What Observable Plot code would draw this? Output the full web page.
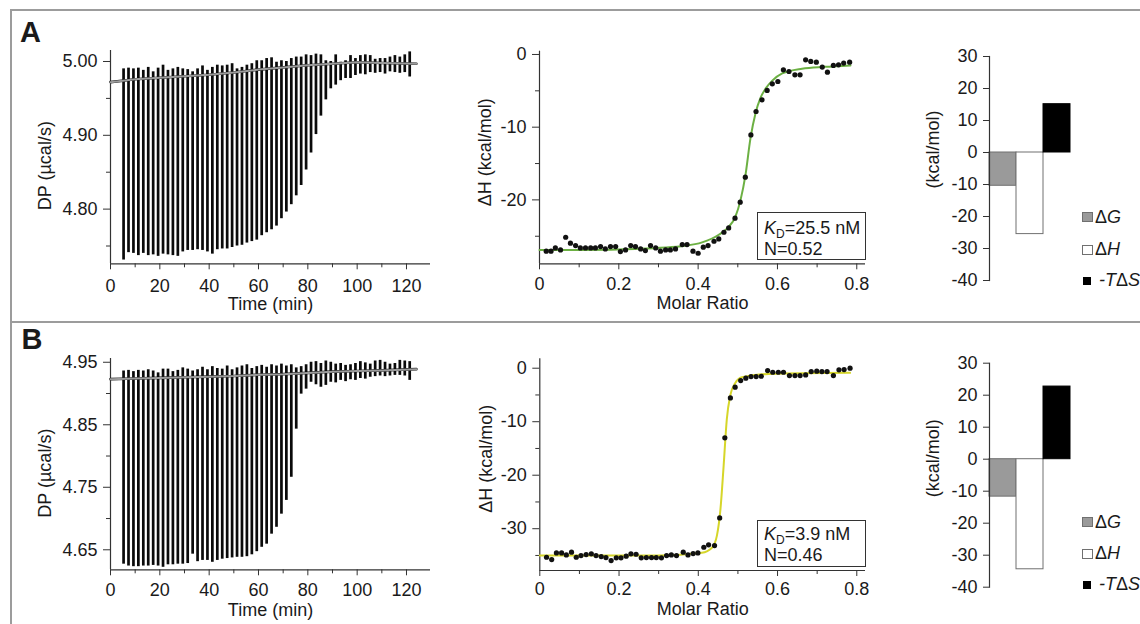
<!DOCTYPE html>
<html><head><meta charset="utf-8">
<script src="https://cdn.jsdelivr.net/npm/d3@7"></script>
<script src="https://cdn.jsdelivr.net/npm/@observablehq/plot@0.6"></script>
<style>
body{margin:0;background:#fff;}
#fig{position:relative;width:1140px;height:624px;overflow:hidden;background:#fff;font-family:"Liberation Sans",Arial,Helvetica,sans-serif;color:#1a1a1a;}
.t{position:absolute;white-space:nowrap;}
.b{position:absolute;box-sizing:border-box;}
</style></head>
<body><div id="fig"></div>
<script>
// ---------------- DATA ----------------
// injection times (min), shared by both runs
const injTime = [5.3,7.3,9.3,11.3,13.3,15.3,17.3,19.3,21.3,23.3,25.3,27.3,29.3,31.3,33.3,35.3,37.3,39.3,41.3,43.3,45.3,47.3,49.3,51.3,53.3,55.3,57.3,59.3,61.3,63.3,65.3,67.3,69.3,71.3,73.3,75.3,77.3,79.3,81.3,83.3,85.3,87.3,89.3,91.3,93.3,95.3,97.3,99.3,101.3,103.3,105.3,107.3,109.3,111.3,113.3,115.3,117.3,119.3,121.3];
// panel A raw trace: spike minima and overshoot maxima (µcal/s)
const peakA = [4.731,4.741,4.740,4.737,4.740,4.737,4.738,4.736,4.739,4.738,4.737,4.736,4.742,4.744,4.744,4.745,4.744,4.742,4.739,4.745,4.746,4.746,4.748,4.750,4.751,4.754,4.756,4.758,4.764,4.768,4.772,4.777,4.787,4.796,4.806,4.818,4.832,4.853,4.876,4.901,4.926,4.948,4.963,4.968,4.974,4.977,4.977,4.981,4.983,4.982,4.985,4.984,4.985,4.983,4.986,4.985,4.984,4.985,4.979];
const upA = [4.990,4.991,4.990,4.991,4.988,4.992,4.986,4.991,4.995,4.988,4.990,4.992,4.990,4.989,4.986,4.990,4.994,4.988,4.992,4.995,4.994,4.995,4.997,4.990,4.992,4.995,4.997,5.001,5.001,5.004,5.005,4.999,5.001,5.000,5.004,5.006,5.006,5.009,5.008,5.010,5.009,5.001,5.000,5.009,4.999,5.001,5.008,5.004,5.008,5.009,5.008,5.003,5.004,5.004,5.006,5.008,5.006,5.009,5.013];
// panel B raw trace
const peakB = [4.627,4.624,4.623,4.623,4.624,4.624,4.625,4.624,4.622,4.626,4.626,4.627,4.627,4.628,4.643,4.631,4.633,4.633,4.630,4.633,4.635,4.636,4.637,4.638,4.638,4.639,4.642,4.647,4.654,4.659,4.675,4.686,4.707,4.729,4.766,4.843,4.899,4.907,4.918,4.914,4.910,4.913,4.918,4.917,4.921,4.919,4.922,4.921,4.924,4.923,4.926,4.927,4.928,4.927,4.928,4.929,4.929,4.928,4.921];
const upB = [4.936,4.937,4.935,4.937,4.936,4.938,4.936,4.933,4.939,4.939,4.935,4.937,4.941,4.939,4.936,4.938,4.942,4.938,4.943,4.940,4.939,4.944,4.938,4.941,4.944,4.946,4.940,4.943,4.945,4.942,4.946,4.944,4.947,4.944,4.946,4.941,4.943,4.946,4.950,4.951,4.948,4.952,4.950,4.947,4.948,4.945,4.946,4.948,4.951,4.949,4.947,4.952,4.953,4.950,4.947,4.948,4.953,4.952,4.951];
// baselines
const baseTime = [0,10,20,30,40,50,60,70,80,90,100,110,124];
const baseA = [4.972,4.976,4.978,4.980,4.982,4.985,4.989,4.992,4.995,4.997,4.999,4.998,4.997];
const baseB = [4.923,4.924,4.925,4.926,4.927,4.928,4.930,4.931,4.933,4.935,4.936,4.937,4.939];
// isotherms
const ratioA = [0.017,0.029,0.040,0.053,0.066,0.078,0.091,0.103,0.116,0.129,0.141,0.154,0.166,0.179,0.192,0.204,0.217,0.230,0.242,0.255,0.267,0.280,0.293,0.305,0.318,0.330,0.343,0.360,0.372,0.387,0.400,0.413,0.425,0.440,0.452,0.465,0.477,0.493,0.506,0.519,0.533,0.546,0.561,0.574,0.587,0.601,0.615,0.629,0.644,0.657,0.671,0.684,0.698,0.713,0.726,0.741,0.754,0.767,0.782];
const dhA = [-27.06,-27.06,-26.61,-26.88,-25.14,-25.96,-26.28,-26.61,-26.61,-26.61,-26.61,-26.42,-26.74,-26.42,-26.42,-27.11,-26.88,-26.28,-26.42,-26.74,-26.97,-26.28,-26.61,-27.06,-26.88,-26.88,-26.74,-26.15,-26.15,-27.06,-27.34,-26.51,-26.28,-25.69,-25.37,-24.45,-23.85,-22.52,-20.32,-16.88,-11.06,-7.84,-6.24,-4.95,-4.04,-3.72,-2.11,-2.34,-2.80,-2.80,-0.73,-0.96,-1.06,-1.74,-2.43,-1.51,-1.42,-1.19,-1.06];
const fitRatioA = [0.000,0.100,0.242,0.368,0.410,0.452,0.477,0.494,0.507,0.519,0.532,0.545,0.557,0.570,0.587,0.612,0.662,0.720,0.784];
const fitDhA = [-26.90,-26.88,-26.74,-26.30,-25.85,-24.80,-23.70,-22.30,-20.00,-16.70,-11.50,-8.00,-6.00,-4.70,-3.60,-2.60,-1.95,-1.70,-1.50];
const ratioB = [0.017,0.030,0.042,0.055,0.067,0.080,0.092,0.104,0.117,0.130,0.142,0.155,0.167,0.180,0.193,0.205,0.218,0.230,0.243,0.256,0.269,0.282,0.294,0.307,0.320,0.332,0.345,0.362,0.374,0.387,0.399,0.414,0.426,0.441,0.454,0.467,0.481,0.493,0.507,0.520,0.533,0.546,0.559,0.575,0.588,0.602,0.615,0.630,0.644,0.657,0.671,0.685,0.699,0.712,0.725,0.741,0.755,0.768,0.783];
const dhB = [-35.33,-35.76,-34.52,-34.52,-34.89,-34.39,-35.33,-35.02,-34.83,-34.70,-35.02,-35.20,-35.39,-35.95,-35.45,-35.45,-35.14,-34.70,-34.77,-35.45,-35.39,-35.39,-35.39,-35.45,-35.02,-34.89,-35.02,-34.39,-34.89,-34.64,-34.52,-33.46,-33.02,-33.15,-27.98,-13.02,-5.55,-3.55,-2.31,-1.87,-1.56,-1.56,-1.50,-0.44,-0.75,-0.75,-0.75,-1.37,-1.37,-1.37,-1.25,-0.62,-0.56,-0.62,-0.62,-1.37,-0.31,-0.25,0.00];
const fitRatioB = [0.000,0.300,0.409,0.435,0.447,0.456,0.464,0.472,0.481,0.493,0.510,0.578,0.783];
const fitDhB = [-35.00,-35.00,-34.50,-33.50,-31.30,-26.30,-18.20,-9.50,-5.00,-2.80,-1.70,-1.06,-0.87];
// fit results
const kdA = "25.5 nM", nA = "0.52";
const kdB = "3.9 nM", nB = "0.46";
// thermodynamic signature (kcal/mol)
const thermoCats = ["ΔG", "ΔH", "-TΔS"];
const thermoA = [-10.4, -25.5, 15.1];
const thermoB = [-11.7, -34.4, 22.7];
// ticks
const timeMajor = [0,20,40,60,80,100,120];
const timeMinor = [10,30,50,70,90,110];
const dpAMajor = [4.80,4.90,5.00], dpAMinor = [4.75,4.85,4.95];
const dpBMajor = [4.65,4.75,4.85,4.95], dpBMinor = [4.70,4.80,4.90];
const ratioMajor = [0,0.2,0.4,0.6,0.8], ratioMinor = [0.1,0.3,0.5,0.7];
const dhAMajor = [0,-10,-20], dhAMinor = [-5,-15,-25];
const dhBMajor = [0,-10,-20,-30], dhBMinor = [-5,-15,-25,-35];
const thermoTicks = [30,20,10,0,-10,-20,-30,-40];

// ---------------- STYLE ----------------
const AX = "#333", TXT = "#1a1a1a";
const FONT = "'Liberation Sans', Arial, Helvetica, sans-serif";
const barFill = ["#9a9a9a", "#ffffff", "#000000"];
const barStroke = ["#707070", "#707070", "#000000"];
const fig = document.getElementById("fig");

function plotAt(L, T, W, H, area, opts) {
  const [x0, x1, y0, y1] = area;
  const svg = Plot.plot({
    width: W, height: H,
    marginLeft: x0 - L, marginRight: L + W - x1, marginTop: y0 - T, marginBottom: T + H - y1,
    style: {fontFamily: FONT, fontSize: "18px", color: TXT, background: "transparent", overflow: "visible"},
    ...opts
  });
  svg.style.position = "absolute"; svg.style.left = L + "px"; svg.style.top = T + "px";
  fig.appendChild(svg);
}
function axesMarks(xd, yd, xMaj, xMin, yMaj, yMin, xFmt, yFmt, xPad, yPad) {
  return [
    Plot.axisX({ticks: xMaj, tickSize: 6, tickPadding: xPad, tickFormat: xFmt, label: null, fontSize: 18, stroke: AX}),
    Plot.axisX({ticks: xMin, tickSize: 4, tickFormat: () => "", label: null, stroke: AX}),
    Plot.axisY({ticks: yMaj, tickSize: 7, tickPadding: yPad, tickFormat: yFmt, label: null, fontSize: 18, stroke: AX}),
    Plot.axisY({ticks: yMin, tickSize: 4, tickFormat: () => "", label: null, stroke: AX}),
    Plot.ruleX([xd[0]], {stroke: AX, strokeWidth: 1.2}),
    Plot.ruleY([yd[0]], {stroke: AX, strokeWidth: 1.2})
  ];
}
const lab = (s, o) => Plot.text([s], {text: d => d, textAnchor: "middle", lineAnchor: "middle", fontSize: 18, fill: TXT, ...o});
const idx = d3.range(injTime.length);
const bidx = d3.range(baseTime.length);

function trace(L, T, W, H, area, yd, peak, up, base, yMaj, yMin, labDy, timeDy, xPad) {
  const xd = [0, 129.73];
  plotAt(L, T, W, H, area, {
    x: {domain: xd}, y: {domain: yd},
    marks: [
      ...axesMarks(xd, yd, timeMajor, timeMinor, yMaj, yMin, d => String(d), d => d.toFixed(2), xPad, 6),
      Plot.line(bidx, {x: i => baseTime[i], y: i => base[i], stroke: "#111", strokeWidth: 2.6}),
      Plot.ruleX(idx, {x: i => injTime[i], y1: i => peak[i], y2: i => up[i], stroke: "#0a0a0a", strokeWidth: 2.7}),
      Plot.line(bidx, {x: i => baseTime[i], y: i => base[i], stroke: "#9b9b9b", strokeWidth: 2}),
      lab("Time (min)", {frameAnchor: "bottom", dy: timeDy}),
      lab("DP (µcal/s)", {frameAnchor: "left", rotate: -90, dx: -65, dy: labDy})
    ]
  });
}
function iso(L, T, W, H, area, yd, rx, ry, fx, fy, color, yMaj, yMin, labDy, molDy, xPad) {
  const xd = [0, 0.822];
  const pts = d3.range(rx.length), fit = d3.range(fx.length);
  plotAt(L, T, W, H, area, {
    x: {domain: xd}, y: {domain: yd},
    marks: [
      ...axesMarks(xd, yd, ratioMajor, ratioMinor, yMaj, yMin, d => String(d), d => String(d), xPad, 6),
      Plot.line(fit, {x: i => fx[i], y: i => fy[i], stroke: color, strokeWidth: 2, curve: "monotone-x"}),
      Plot.dot(pts, {x: i => rx[i], y: i => ry[i], r: 2.6, fill: "#111", stroke: "none"}),
      lab("Molar Ratio", {frameAnchor: "bottom", dy: molDy}),
      lab("ΔH (kcal/mol)", {frameAnchor: "left", rotate: -90, dx: -54, dy: labDy})
    ]
  });
}
function thermo(L, T, W, H, area, vals, labDy) {
  const rows = d3.range(thermoCats.length);
  plotAt(L, T, W, H, area, {
    x: {type: "band", domain: thermoCats, padding: 0, axis: null},
    y: {domain: [-40, 30]},
    color: {type: "identity"},
    marks: [
      Plot.barY(rows, {x: i => thermoCats[i], y: i => vals[i], fill: i => barFill[i], stroke: i => barStroke[i], strokeWidth: 1}),
      Plot.axisY({ticks: thermoTicks, tickSize: 6, tickPadding: 6, tickFormat: d => String(d), label: null, fontSize: 18, stroke: AX}),
      Plot.frame({anchor: "left", stroke: AX, strokeWidth: 1.2}),
      lab("(kcal/mol)", {frameAnchor: "left", rotate: -90, dx: -56, dy: labDy})
    ]
  });
}

// ---------------- FRAME ----------------
function box(x, y, w, h, css) {
  const d = document.createElement("div"); d.className = "b";
  d.style.cssText = `left:${x}px;top:${y}px;width:${w}px;height:${h}px;${css}`;
  fig.appendChild(d);
}
function htext(x, baseline, html, size, css = "") {
  const d = document.createElement("div"); d.className = "t";
  d.style.cssText = `left:${x}px;top:${baseline - 0.8465 * size}px;font-size:${size}px;line-height:${size}px;${css}`;
  d.innerHTML = html; fig.appendChild(d);
}
box(11, 9.25, 1140, 1.5, "background:#9c9c9c");
box(10.25, 9.25, 1.5, 620, "background:#9c9c9c");
box(11, 321, 1140, 1.5, "background:#9c9c9c");

// ---------------- PLOTS ----------------
trace(30, 40, 410, 280, [110, 430, 50, 263.3], [4.7259, 5.0149], peakA, upA, baseA, dpAMajor, dpAMinor, 8.5, 40, 9);
trace(30, 345, 410, 279, [110, 430, 358, 569.3], [4.618, 4.956], peakB, upB, baseB, dpBMajor, dpBMinor, 9, 40.5, 7.5);
iso(460, 40, 420, 280, [539, 865, 50.7, 263.3], [-28.79, 0.45], ratioA, dhA, fitRatioA, fitDhA, "#6cb043", dhAMajor, dhAMinor, -5.3, 39, 7);
iso(460, 345, 420, 279, [539.3, 865, 358.3, 570], [-37.81, 1.76], ratioB, dhB, fitRatioB, fitDhB, "#d6d62a", dhBMajor, dhBMinor, -6, 38.5, 5.5);
thermo(900, 40, 180, 260, [989, 1070.5, 56, 280], thermoA, -19);
thermo(900, 345, 180, 260, [989, 1070.5, 362.7, 586.7], thermoB, -17);

// ---------------- PANEL LETTERS, FIT BOXES, LEGENDS ----------------
htext(20, 43, "A", 29, "font-weight:bold");
htext(21.5, 349.3, "B", 29, "font-weight:bold");

const sub = "<span style='font-size:12px;position:relative;top:4px'>D</span>";
box(757, 212, 109, 47.5, "border:1.5px solid #333;background:#fff");
htext(764, 234, `<i>K</i>${sub}=${kdA}`, 18);
htext(764, 255, `N=${nA}`, 18);
box(757.3, 520, 108.5, 46.7, "border:1.5px solid #333;background:#fff");
htext(764, 540.7, `<i>K</i>${sub}=${kdB}`, 18);
htext(764, 561.7, `N=${nB}`, 18);

const legHtml = s => s.replace(/[^Δ]+/g, m => `<i>${m}</i>`);
function legend(rowsY, swY) {
  const sw = [[1082, 11, 10], [1082, 11, 10], [1083, 8, 8]];
  thermoCats.forEach((c, i) => {
    box(sw[i][0], swY[i], sw[i][1], sw[i][2], `background:${barFill[i]};border:1px solid ${barStroke[i]}`);
    htext(i === 2 ? 1099 : 1095, rowsY[i], legHtml(c), 18);
  });
}
legend([223.3, 255, 286.7], [212, 244.5, 276.5]);
legend([528.3, 559.3, 590], [516.5, 548.5, 581]);
</script></body></html>
